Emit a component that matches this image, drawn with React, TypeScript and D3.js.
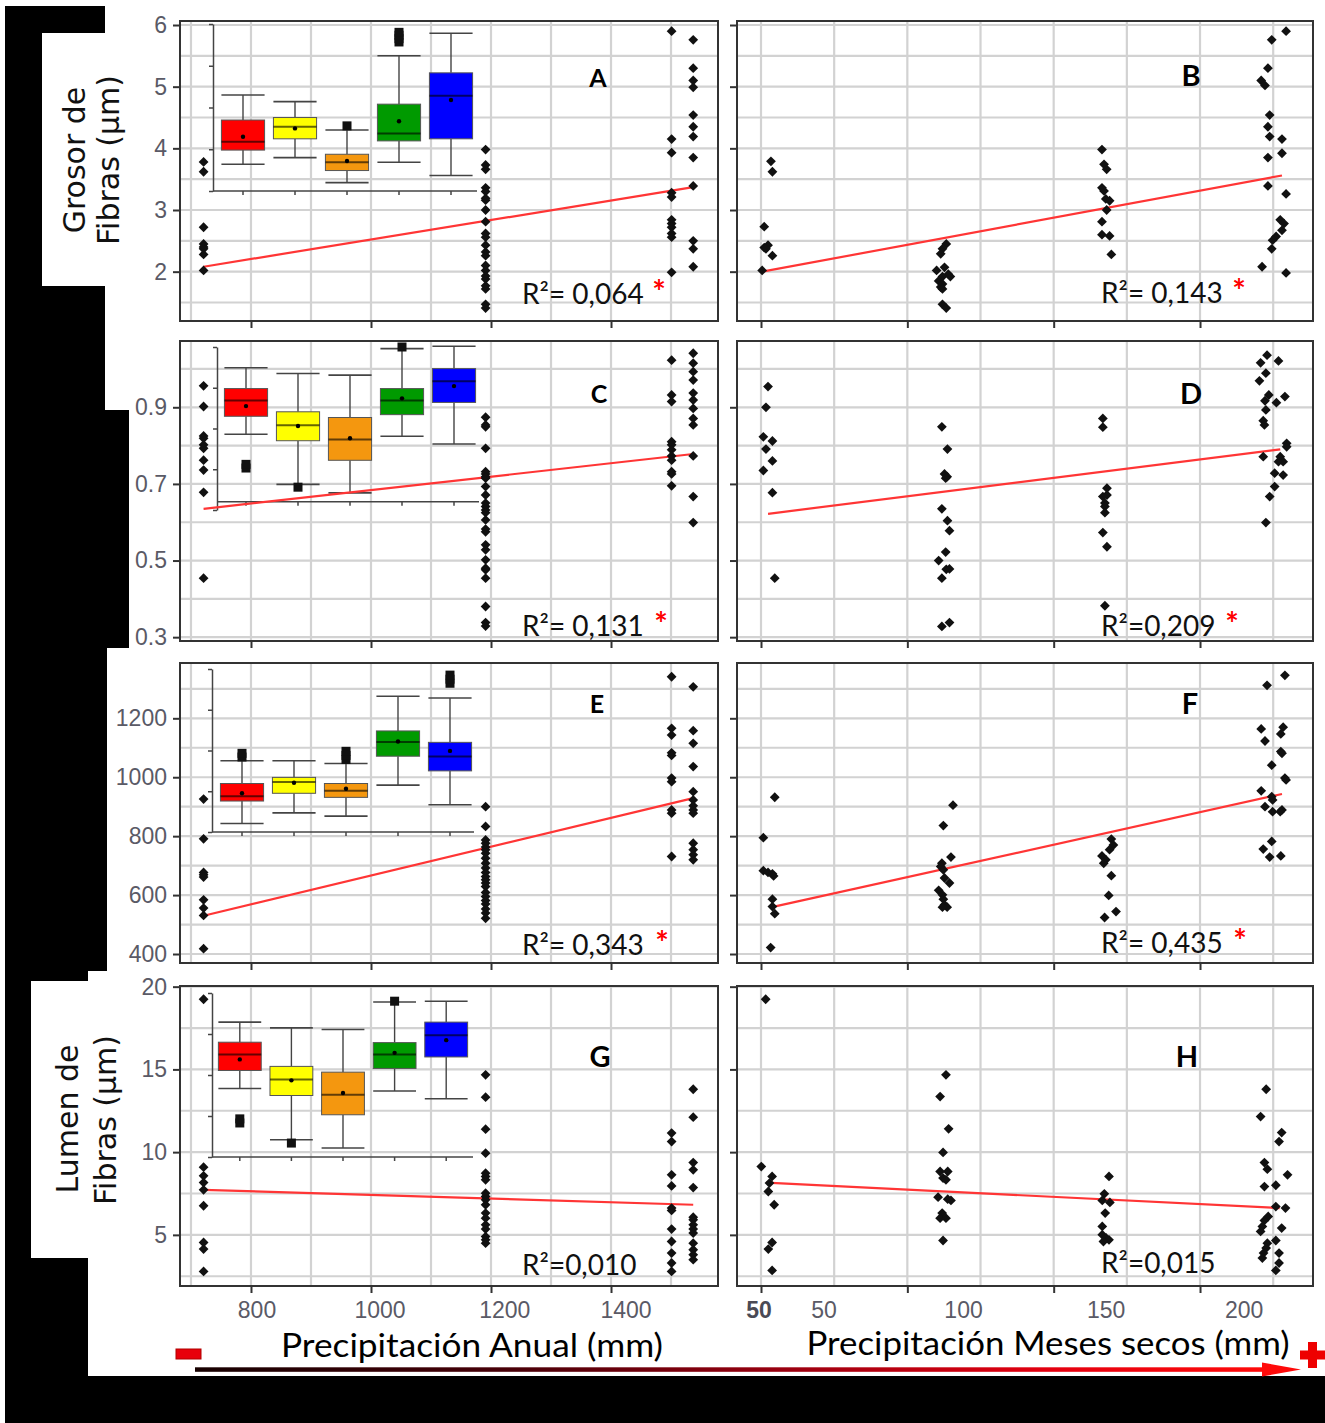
import React, { useEffect, useRef } from "react";
import * as d3 from "d3";

const W = 1325;
const H = 1423;

// ---- x axes ----
const anualSites = [721, 1191, 1501, 1537];
const anualTicks = [800, 1000, 1200, 1400];
const anualMinor = [700, 900, 1100, 1300, 1500];
const anualLabels = [
  { t: "800", at: 810 },
  { t: "1000", at: 1015 },
  { t: "1200", at: 1223 },
  { t: "1400", at: 1425 },
];
const secosTicks = [50, 100, 150, 200];
const secosMinor = [75, 125, 175, 225];
const secosLabels = [
  { t: "50", at: 49.3, strong: true },
  { t: "50", at: 71.5 },
  { t: "100", at: 119.2 },
  { t: "150", at: 167.9 },
  { t: "200", at: 215.1 },
];

// ---- y axes (one per row) ----
const grosorTicks = [2, 3, 4, 5, 6];
const grosorMinor = [1.5, 2.5, 3.5, 4.5, 5.5];
const fracTicks = [0.3, 0.5, 0.7, 0.9];
const fracMinor = [0.4, 0.6, 0.8, 1.0];
const largoTicks = [400, 600, 800, 1000, 1200];
const largoMinor = [500, 700, 900, 1100, 1300];
const lumenTicks = [5, 10, 15, 20];
const lumenMinor = [2.5, 7.5, 12.5, 17.5];

// ---- scatter data: left panels, one list per site in anualSites ----
const grosorAnual = [
  [3.78, 3.62, 2.72, 2.45, 2.4, 2.37, 2.28, 2.02],
  [3.98, 3.73, 3.66, 3.36, 3.3, 3.19, 3.16, 3.0, 2.81, 2.62, 2.56, 2.43, 2.32, 2.26, 2.1, 2.02, 1.93, 1.88, 1.77, 1.72, 1.47, 1.41],
  [5.9, 4.15, 3.93, 3.28, 3.21, 2.84, 2.78, 2.72, 2.62, 2.56, 1.99],
  [5.76, 5.3, 5.1, 4.99, 4.54, 4.35, 4.19, 3.85, 3.39, 2.5, 2.37, 2.08],
];
const fracAnual = [
  [0.956, 0.902, 0.825, 0.819, 0.802, 0.793, 0.762, 0.736, 0.678, 0.454],
  [0.874, 0.854, 0.849, 0.793, 0.732, 0.726, 0.719, 0.715, 0.693, 0.671, 0.65, 0.641, 0.632, 0.625, 0.606, 0.582, 0.575, 0.541, 0.528, 0.502, 0.48, 0.476, 0.454, 0.38, 0.338, 0.329],
  [1.023, 0.932, 0.915, 0.81, 0.802, 0.789, 0.773, 0.762, 0.732, 0.726, 0.695],
  [1.041, 1.015, 0.993, 0.971, 0.937, 0.919, 0.897, 0.871, 0.854, 0.773, 0.667, 0.599],
];
const largoAnual = [
  [926, 791, 677, 669, 661, 584, 556, 531, 418],
  [900, 833, 787, 776, 763, 754, 742, 725, 708, 692, 677, 663, 652, 641, 629, 609, 595, 582, 570, 553, 539, 521],
  [1341, 1166, 1143, 1083, 1074, 997, 985, 889, 878, 731],
  [1307, 1158, 1115, 1036, 951, 923, 903, 889, 878, 776, 754, 737, 720],
];
const lumenAnual = [
  [19.24, 9.09, 8.57, 8.16, 7.72, 6.76, 4.54, 4.14, 2.79],
  [14.67, 13.32, 11.39, 9.94, 8.73, 8.53, 8.33, 7.52, 7.32, 7.12, 6.82, 6.32, 6.01, 5.61, 5.35, 4.9, 4.7, 4.5],
  [11.15, 10.64, 8.63, 7.96, 6.62, 6.48, 5.35, 4.6, 3.9, 3.3, 2.79],
  [13.8, 12.11, 9.37, 8.93, 7.86, 6.07, 5.91, 5.61, 5.35, 5.11, 4.5, 4.1, 3.8, 3.5],
];

// ---- scatter data: right panels, [dry-month precipitation mm, value] ----
const grosorSecos = [
  [50.4, 2.02], [51.1, 2.73], [51.1, 2.39], [52.4, 2.43], [53.4, 3.79], [53.9, 3.62], [53.9, 2.26], [51.7, 2.37],
  [113.3, 2.45], [112, 2.37], [111.4, 2.29], [112.7, 2.07], [110, 2.02], [114, 1.96], [112, 1.92], [114.7, 1.92],
  [110.7, 1.85], [112, 1.8], [111.4, 1.75], [112, 1.72], [112, 1.47], [113.3, 1.41],
  [166.5, 3.98], [167.2, 3.74], [168.1, 3.66], [166.5, 3.36], [167.2, 3.31], [167.8, 3.18], [169.1, 3.15], [168.1, 3.0],
  [166.5, 2.81], [166.5, 2.6], [169.1, 2.58], [169.7, 2.28],
  [229.4, 5.9], [224.5, 5.76], [223.2, 5.3], [220.9, 5.1], [222.2, 5.02], [223.8, 4.54], [223.2, 4.35], [223.8, 4.19],
  [228, 4.15], [223.2, 3.85], [228, 3.92], [223.2, 3.39], [229.4, 3.26], [227.4, 2.84], [228, 2.67], [226, 2.57],
  [224.8, 2.51], [224.5, 2.37], [221.2, 2.08], [229.4, 1.98], [228.7, 2.78],
];
const fracSecos = [
  [52.4, 0.954], [51.7, 0.9], [50.8, 0.823], [53.9, 0.812], [51.7, 0.791], [53.9, 0.76], [50.8, 0.735], [53.9, 0.677], [54.7, 0.454],
  [111.8, 0.849], [113.7, 0.791], [112.7, 0.726], [113.6, 0.719], [113.1, 0.715], [111.8, 0.635], [113.7, 0.604], [114.4, 0.578],
  [113.1, 0.522], [110.7, 0.5], [113.3, 0.477], [114.4, 0.478], [111.8, 0.454], [111.8, 0.328], [114.4, 0.338],
  [166.8, 0.871], [166.8, 0.848], [168.2, 0.689], [168.2, 0.671], [166.8, 0.667], [167.5, 0.65], [167.5, 0.641], [167.5, 0.625],
  [166.8, 0.573], [168.2, 0.536], [167.5, 0.382],
  [222.9, 1.036], [220.7, 1.016], [226.8, 1.021], [222.5, 0.989], [220.3, 0.969], [223.5, 0.932], [222.2, 0.917], [226.1, 0.912],
  [229, 0.928], [222.5, 0.893], [221.6, 0.865], [222, 0.854], [229.6, 0.806], [229.6, 0.797], [221.6, 0.771], [227.4, 0.771],
  [228.4, 0.758], [226.8, 0.758], [225.5, 0.728], [228.4, 0.723], [225.5, 0.693], [223.8, 0.667], [222.5, 0.599],
];
const largoSecos = [
  [54.7, 932], [50.8, 795], [50.8, 683], [52.4, 677], [53.9, 672], [54.3, 665], [53.9, 586], [53.9, 561], [54.7, 537], [53.3, 422],
  [115.6, 905], [112.3, 836], [114.9, 729], [111.8, 708], [111.4, 697], [112.3, 686], [112.7, 658], [114.4, 641],
  [110.7, 616], [112, 601], [112.3, 586], [112.7, 567], [113.6, 559], [112, 559],
  [169.7, 790], [170.4, 770], [169.1, 754], [166.5, 733], [167.8, 720], [167.1, 708], [169.7, 666], [168.8, 599], [171.3, 544], [167.4, 524],
  [229, 1346], [222.9, 1312], [220.9, 1164], [222.2, 1123], [228.4, 1170], [227.6, 1147], [227.6, 1087], [228, 1081],
  [224.5, 1041], [229, 997], [229.4, 991], [220.9, 954], [224.5, 934], [224.8, 923], [222.2, 900], [224.8, 883],
  [228, 889], [227.4, 883], [224.5, 782], [221.6, 756], [223.8, 729], [227.6, 733],
];
const lumenSecos = [
  [51.6, 19.24], [50.1, 9.13], [53.8, 8.53], [52.9, 8.13], [52.5, 7.62], [54.5, 6.82], [53.8, 4.54], [52.5, 4.14], [53.8, 2.85],
  [113.2, 14.67], [111.2, 13.36], [114.1, 11.41], [112.2, 9.98], [111.2, 8.83], [113.8, 8.83], [112.2, 8.43], [113.2, 8.33],
  [110.5, 7.28], [113.8, 7.16], [114.9, 7.08], [111.9, 6.32], [111.2, 6.01], [113.2, 6.01], [112.2, 4.66],
  [168.9, 8.53], [167.3, 7.48], [169.2, 6.96], [166.6, 7.08], [167.6, 6.32], [166.6, 5.51], [166.6, 5.01], [167.9, 4.81], [168.9, 4.7], [167, 4.6],
  [222.6, 13.8], [220.7, 12.15], [227.9, 11.18], [227, 10.64], [222, 9.37], [223, 8.97], [229.9, 8.63], [222, 7.92],
  [225.9, 8.0], [225.9, 6.71], [229.2, 6.62], [223.3, 6.11], [222, 5.87], [221.3, 5.51], [227.9, 5.41], [220.7, 5.21],
  [225.9, 4.66], [223, 4.5], [222.6, 4.2], [221.7, 3.9], [227, 3.9], [221.3, 3.6], [227, 3.3], [225.9, 2.85],
];

// fitted regression lines, end points [x, y]
const fitA = [[721, 2.08], [1537, 3.37]];
const fitB = [[50.4, 2.0], [228, 3.56]];
const fitC = [[721, 0.635], [1537, 0.778]];
const fitD = [[52.4, 0.622], [227.4, 0.79]];
const fitE = [[721, 530], [1537, 929]];
const fitF = [[53.7, 559], [228, 943]];
const fitG = [[721, 7.72], [1537, 6.82]];
const fitH = [[51.8, 8.16], [227.2, 6.62]];

// ---- inset boxplots (inset units 0..4) ----
const groups = ["rojo", "amarillo", "naranja", "verde", "azul"];
const groupColors = ["#ff0000", "#ffff00", "#f4970f", "#009a00", "#0000ff"];
const boxA = [
  { lo: 0.64, q1: 0.98, med: 1.18, q3: 1.7, hi: 2.3, mean: 1.3, out: [] },
  { lo: 0.8, q1: 1.25, med: 1.54, q3: 1.76, hi: 2.14, mean: 1.5, out: [] },
  { lo: 0.2, q1: 0.49, med: 0.69, q3: 0.88, hi: 1.46, mean: 0.72, out: [1.56] },
  { lo: 0.69, q1: 1.2, med: 1.38, q3: 2.08, hi: 3.24, mean: 1.67, out: [3.57, 3.65, 3.73, 3.8] },
  { lo: 0.37, q1: 1.25, med: 2.28, q3: 2.83, hi: 3.78, mean: 2.18, out: [] },
];
const boxC = [
  { lo: 1.86, q1: 2.3, med: 2.69, q3: 2.98, hi: 3.49, mean: 2.55, out: [1.03, 1.12] },
  { lo: 0.63, q1: 1.7, med: 2.08, q3: 2.41, hi: 3.35, mean: 2.06, out: [0.56] },
  { lo: 0.42, q1: 1.22, med: 1.73, q3: 2.27, hi: 3.31, mean: 1.76, out: [] },
  { lo: 1.81, q1: 2.34, med: 2.69, q3: 2.98, hi: 3.96, mean: 2.74, out: [4.0] },
  { lo: 1.62, q1: 2.64, med: 3.16, q3: 3.47, hi: 4.02, mean: 3.04, out: [] },
];
const boxE = [
  { lo: 0.21, q1: 0.76, med: 0.88, q3: 1.19, hi: 1.75, mean: 0.95, out: [1.84, 1.93] },
  { lo: 0.47, q1: 0.95, med: 1.23, q3: 1.34, hi: 1.75, mean: 1.21, out: [] },
  { lo: 0.39, q1: 0.85, med: 1.01, q3: 1.19, hi: 1.68, mean: 1.06, out: [1.78, 1.88, 1.98] },
  { lo: 1.15, q1: 1.86, med: 2.21, q3: 2.48, hi: 3.33, mean: 2.22, out: [] },
  { lo: 0.67, q1: 1.5, med: 1.85, q3: 2.2, hi: 3.29, mean: 1.99, out: [3.65, 3.75, 3.85] },
];
const boxG = [
  { lo: 1.67, q1: 2.11, med: 2.5, q3: 2.8, hi: 3.29, mean: 2.38, out: [0.83, 0.93] },
  { lo: 0.42, q1: 1.5, med: 1.89, q3: 2.21, hi: 3.15, mean: 1.87, out: [0.34] },
  { lo: 0.22, q1: 1.03, med: 1.52, q3: 2.07, hi: 3.11, mean: 1.56, out: [] },
  { lo: 1.61, q1: 2.16, med: 2.5, q3: 2.79, hi: 3.78, mean: 2.54, out: [3.8] },
  { lo: 1.42, q1: 2.44, med: 2.97, q3: 3.29, hi: 3.8, mean: 2.85, out: [] },
];
const insetTicks = [0, 1, 2, 3, 4];

// ---- layout ----
const colX = [[180, 718], [737, 1313]];
const rowY = [[21, 321], [341, 641], [663, 963], [986, 1286]];
const xDomains = [[681.7, 1578.3], [41.8, 238.6]];
const rows = [
  { domain: [1.2, 6.065], ticks: grosorTicks, minor: grosorMinor, fmt: d3.format("d") },
  { domain: [0.29, 1.073], ticks: fracTicks, minor: fracMinor, fmt: d3.format(".1f") },
  { domain: [369.5, 1387.7], ticks: largoTicks, minor: largoMinor, fmt: d3.format("d") },
  { domain: [1.91, 20.04], ticks: lumenTicks, minor: lumenMinor, fmt: d3.format("d") },
];
const insets = [
  { x0: 213, x1: 477, top: 24, bottom: 191, band: [217, 477], base: 0, stats: boxA },
  { x0: 217, x1: 479, top: 347, bottom: 510, band: [220, 480], base: 0.2, stats: boxC },
  { x0: 212, x1: 474, top: 669, bottom: 832, band: [216, 476], base: 0, stats: boxE },
  { x0: 212, x1: 473, top: 993, bottom: 1157, band: [214, 472], base: 0, stats: boxG },
];

const bySite = (lists) => lists.flatMap((vals, i) => vals.map((v) => [anualSites[i], v]));

const panels = [
  { id: "A", col: 0, row: 0, pts: bySite(grosorAnual), fit: fitA, r2: "R²= 0,064", star: 659, lx: 598, ly: 87, fs: 25 },
  { id: "B", col: 1, row: 0, pts: grosorSecos, fit: fitB, r2: "R²= 0,143", star: 1239, lx: 1191, ly: 86, fs: 29 },
  { id: "C", col: 0, row: 1, pts: bySite(fracAnual), fit: fitC, r2: "R²= 0,131", star: 661, lx: 599, ly: 403, fs: 25 },
  { id: "D", col: 1, row: 1, pts: fracSecos, fit: fitD, r2: "R²=0,209", star: 1232, lx: 1191, ly: 404, fs: 29 },
  { id: "E", col: 0, row: 2, pts: bySite(largoAnual), fit: fitE, r2: "R²= 0,343", star: 662, lx: 597, ly: 713, fs: 25 },
  { id: "F", col: 1, row: 2, pts: largoSecos, fit: fitF, r2: "R²= 0,435", star: 1240, lx: 1190, ly: 714, fs: 29 },
  { id: "G", col: 0, row: 3, pts: bySite(lumenAnual), fit: fitG, r2: "R²=0,010", star: null, lx: 600, ly: 1067, fs: 29 },
  { id: "H", col: 1, row: 3, pts: lumenSecos, fit: fitH, r2: "R²=0,015", star: null, lx: 1187, ly: 1067, fs: 29 },
];
const r2Pos = [
  { x: 522, y: [304, 636, 955, 1275] },
  { x: 1101, y: [303, 636, 953, 1273] },
];

const CAL = "Lato, 'Open Sans', sans-serif";
const ARIAL = "'Liberation Sans', Arial, sans-serif";

function App() {
  const svgRef = useRef(null);

  useEffect(() => {
    const svg = d3.select(svgRef.current);
    svg.selectAll("*").remove();

    // gradient for the bottom arrow
    const grad = svg.append("defs").append("linearGradient").attr("id", "arrowGrad");
    [["0", "#160000"], ["0.3", "#4a0008"], ["0.55", "#9a000f"], ["0.8", "#e4000f"], ["1", "#ff0a0a"]].forEach(([o, c]) =>
      grad.append("stop").attr("offset", o).attr("stop-color", c)
    );

    svg.append("rect").attr("width", W).attr("height", H).attr("fill", "#fff");

    // black page background around the figure
    svg.append("path")
      .attr("fill", "#000")
      .attr("d", "M5,6 H105 V410 H129 V648 H107 V971 H88 V981 H31 V1258 H88 V1376 H1325 V1423 H5 Z");
    svg.append("rect").attr("x", 42).attr("y", 33).attr("width", 63).attr("height", 253).attr("fill", "#fff");

    // row titles
    const rot = [
      { t: "Grosor de", x: 85, y: 160 },
      { t: "Fibras (µm)", x: 119, y: 160 },
      { t: "Lumen de", x: 78, y: 1119 },
      { t: "Fibras (µm)", x: 116, y: 1120 },
    ];
    svg.selectAll(".rowtitle").data(rot).join("text")
      .attr("class", "rowtitle")
      .attr("transform", (d) => `translate(${d.x},${d.y}) rotate(-90)`)
      .attr("text-anchor", "middle")
      .attr("font-family", "'DejaVu Sans', Verdana, sans-serif")
      .attr("font-size", 30)
      .attr("fill", "#111")
      .text((d) => d.t);

    panels.forEach((p) => {
      const [x0, x1] = colX[p.col];
      const [y0, y1] = rowY[p.row];
      const row = rows[p.row];
      const x = d3.scaleLinear().domain(xDomains[p.col]).range([x0, x1]);
      const y = d3.scaleLinear().domain(row.domain).range([y1, y0]);
      const g = svg.append("g");

      // grid
      const xg = p.col === 0 ? [...anualTicks, ...anualMinor] : [...secosTicks, ...secosMinor];
      g.selectAll(".vg").data(xg).join("line")
        .attr("x1", (d) => x(d)).attr("x2", (d) => x(d))
        .attr("y1", y0).attr("y2", y1)
        .attr("stroke", "#d2d2d2").attr("stroke-width", 2.2);
      g.selectAll(".hg").data([...row.ticks, ...row.minor]).join("line")
        .attr("x1", x0).attr("x2", x1)
        .attr("y1", (d) => y(d)).attr("y2", (d) => y(d))
        .attr("stroke", "#d2d2d2").attr("stroke-width", 2.2);

      // axes ticks
      const ax = g.append("g").attr("transform", `translate(0,${y1})`)
        .call(d3.axisBottom(x).tickValues(p.col === 0 ? anualTicks : secosTicks).tickSize(7).tickSizeOuter(0).tickFormat(() => ""));
      ax.select(".domain").remove();
      ax.selectAll("line").attr("stroke", "#333").attr("stroke-width", 2);

      const ay = g.append("g").attr("transform", `translate(${x0},0)`)
        .call(d3.axisLeft(y).tickValues(row.ticks).tickSize(7).tickPadding(6).tickSizeOuter(0)
          .tickFormat(p.col === 0 ? row.fmt : () => ""));
      ay.select(".domain").remove();
      ay.selectAll("line").attr("stroke", "#333").attr("stroke-width", 2);
      ay.selectAll("text").attr("font-family", ARIAL).attr("font-size", 23).attr("fill", "#5a5a66");

      // frame
      g.append("rect").attr("x", x0).attr("y", y0).attr("width", x1 - x0).attr("height", y1 - y0)
        .attr("fill", "none").attr("stroke", "#333").attr("stroke-width", 2);

      // inset boxplot
      if (p.col === 0) drawInset(g, insets[p.row]);

      // regression line
      g.append("path")
        .attr("d", d3.line().x((d) => x(d[0])).y((d) => y(d[1]))(p.fit))
        .attr("stroke", "#ff3535").attr("stroke-width", 2.2).attr("fill", "none");

      // points
      const sym = d3.symbol(d3.symbolSquare, 48)();
      g.selectAll(".pt").data(p.pts).join("path")
        .attr("d", sym)
        .attr("transform", (d) => `translate(${x(d[0])},${y(d[1])}) rotate(45)`)
        .attr("fill", "#111");

      // panel letter
      g.append("text").attr("x", p.lx).attr("y", p.ly).attr("text-anchor", "middle")
        .attr("font-family", CAL).attr("font-weight", 700).attr("font-size", p.fs).attr("fill", "#000")
        .text(p.id);

      // R2 annotation
      const rp = r2Pos[p.col];
      g.append("text").attr("x", rp.x).attr("y", rp.y[p.row])
        .attr("font-family", CAL).attr("font-size", 28).attr("fill", "#111").text(p.r2);
      if (p.star) {
        g.append("text").attr("x", p.star).attr("y", rp.y[p.row]).attr("text-anchor", "middle")
          .attr("font-family", CAL).attr("font-weight", 700).attr("font-size", 32).attr("fill", "#ff0000").text("*");
      }
    });

    // bottom tick labels
    const xa = d3.scaleLinear().domain(xDomains[0]).range(colX[0]);
    const xs = d3.scaleLinear().domain(xDomains[1]).range(colX[1]);
    svg.selectAll(".xla").data(anualLabels).join("text")
      .attr("x", (d) => xa(d.at)).attr("y", 1318).attr("text-anchor", "middle")
      .attr("font-family", ARIAL).attr("font-size", 23).attr("fill", "#5a5a66").text((d) => d.t);
    svg.selectAll(".xls").data(secosLabels).join("text")
      .attr("x", (d) => xs(d.at)).attr("y", 1318).attr("text-anchor", "middle")
      .attr("font-family", ARIAL).attr("font-size", 23)
      .attr("font-weight", (d) => (d.strong ? 700 : 400))
      .attr("fill", (d) => (d.strong ? "#4a4a55" : "#5a5a66")).text((d) => d.t);

    // axis titles
    svg.append("text").attr("x", 472).attr("y", 1357).attr("text-anchor", "middle")
      .attr("font-family", CAL).attr("font-size", 32).attr("textLength", 382).attr("lengthAdjust", "spacingAndGlyphs")
      .attr("fill", "#000").text("Precipitación Anual (mm)");
    svg.append("text").attr("x", 1048).attr("y", 1355).attr("text-anchor", "middle")
      .attr("font-family", CAL).attr("font-size", 32).attr("textLength", 483).attr("lengthAdjust", "spacingAndGlyphs")
      .attr("fill", "#000").text("Precipitación Meses secos (mm)");

    // gradient arrow, minus and plus signs
    svg.append("rect").attr("x", 195).attr("y", 1367.3).attr("width", 1070).attr("height", 4.5).attr("fill", "url(#arrowGrad)");
    svg.append("path").attr("d", "M1262,1362.5 L1301,1369.5 L1262,1376.5 Z").attr("fill", "#ff0a0a");
    svg.append("rect").attr("x", 176).attr("y", 1349).attr("width", 25).attr("height", 10)
      .attr("fill", "#e8000b").attr("stroke", "#b00000").attr("stroke-width", 1);
    svg.append("path")
      .attr("d", "M1308,1342 H1317 V1350.5 H1325 V1359.5 H1317 V1368 H1308 V1359.5 H1300 V1350.5 H1308 Z")
      .attr("fill", "#ee0000");
  }, []);

  return (
    <svg ref={svgRef} width={W} height={H} style={{ position: "absolute", left: 0, top: 0, display: "block" }} />
  );
}

function drawInset(g, ins) {
  const ys = d3.scaleLinear().domain([0, 4]).range([ins.bottom, ins.top]);
  const xb = d3.scaleBand().domain(groups).range(ins.band);
  const bw = xb.bandwidth() * 0.83;
  const ig = g.append("g");

  const yAx = ig.append("g").attr("transform", `translate(${ins.x0},0)`)
    .call(d3.axisLeft(ys).tickValues(insetTicks).tickSize(4).tickSizeOuter(0).tickFormat(() => ""));
  yAx.selectAll("line,path").attr("stroke", "#444").attr("stroke-width", 1.5);

  const base = ys(ins.base);
  ig.append("line").attr("x1", ins.x0).attr("x2", ins.x1).attr("y1", base).attr("y2", base)
    .attr("stroke", "#444").attr("stroke-width", 1.5);
  const xAx = ig.append("g").attr("transform", `translate(0,${base})`)
    .call(d3.axisBottom(xb).tickSize(4).tickSizeOuter(0).tickFormat(() => ""));
  xAx.select(".domain").remove();
  xAx.selectAll("line").attr("stroke", "#444").attr("stroke-width", 1.5);

  ins.stats.forEach((s, i) => {
    const cx = xb(groups[i]) + xb.bandwidth() / 2;
    const bg = ig.append("g");
    const ln = (xa, ya, xb2, yb2, w = 1.4) =>
      bg.append("line").attr("x1", xa).attr("y1", ya).attr("x2", xb2).attr("y2", yb2).attr("stroke", "#444").attr("stroke-width", w);
    ln(cx, ys(s.hi), cx, ys(s.q3));
    ln(cx, ys(s.q1), cx, ys(s.lo));
    ln(cx - bw / 2, ys(s.hi), cx + bw / 2, ys(s.hi), 1.6);
    ln(cx - bw / 2, ys(s.lo), cx + bw / 2, ys(s.lo), 1.6);
    bg.append("rect").attr("x", cx - bw / 2).attr("y", ys(s.q3)).attr("width", bw).attr("height", ys(s.q1) - ys(s.q3))
      .attr("fill", groupColors[i]).attr("stroke", "#555").attr("stroke-width", 1);
    bg.append("line").attr("x1", cx - bw / 2).attr("x2", cx + bw / 2).attr("y1", ys(s.med)).attr("y2", ys(s.med))
      .attr("stroke", "rgba(0,0,0,0.6)").attr("stroke-width", 2);
    bg.append("circle").attr("cx", cx).attr("cy", ys(s.mean)).attr("r", 2.2).attr("fill", "#000");
    bg.selectAll(".out").data(s.out).join("rect")
      .attr("x", cx - 4.5).attr("y", (d) => ys(d) - 4.5).attr("width", 9).attr("height", 9).attr("fill", "#111");
  });
}

export default App;
